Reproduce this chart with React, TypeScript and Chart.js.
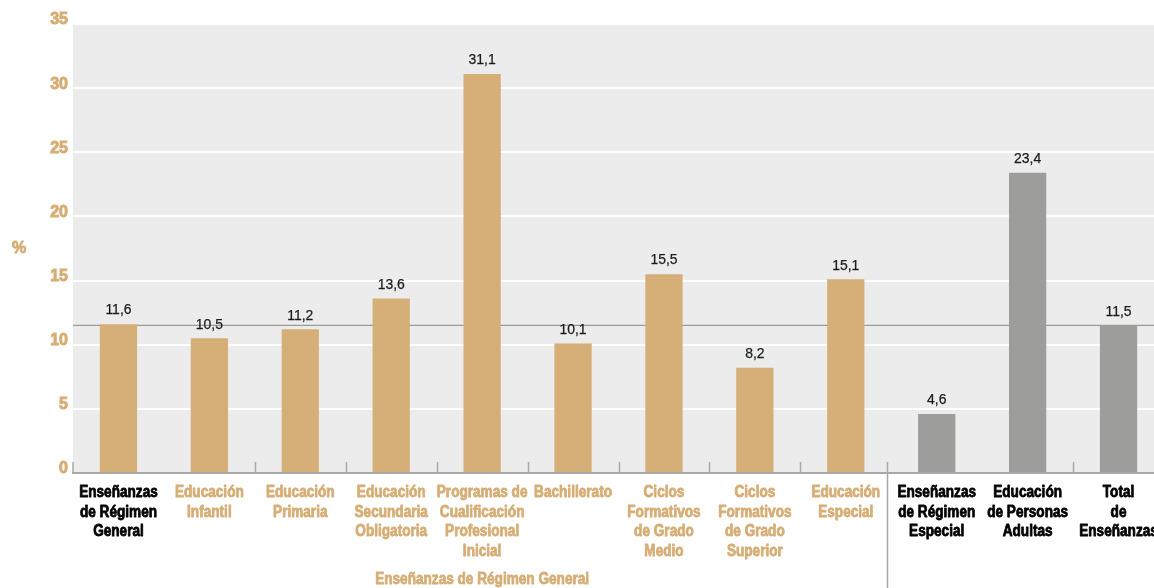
import { useEffect, useRef } from "react";
import { Chart, registerables } from "chart.js";

Chart.register(...registerables);

// ---- Data ----
const categoryLabels: string[][] = [
  ["Enseñanzas", "de Régimen", "General"],
  ["Educación", "Infantil"],
  ["Educación", "Primaria"],
  ["Educación", "Secundaria", "Obligatoria"],
  ["Programas de", "Cualificación", "Profesional", "Inicial"],
  ["Bachillerato"],
  ["Ciclos", "Formativos", "de Grado", "Medio"],
  ["Ciclos", "Formativos", "de Grado", "Superior"],
  ["Educación", "Especial"],
  ["Enseñanzas", "de Régimen", "Especial"],
  ["Educación", "de Personas", "Adultas"],
  ["Total", "de", "Enseñanzas"],
];
const values: number[] = [11.6, 10.5, 11.2, 13.6, 31.1, 10.1, 15.5, 8.2, 15.1, 4.6, 23.4, 11.5];
// which bars belong to "Régimen General" (tan) vs the rest (grey)
const isGeneralBar: boolean[] = [true, true, true, true, true, true, true, true, true, false, false, false];
// which labels are sub-categories of Régimen General (tan text)
const isSubLabel: boolean[] = [false, true, true, true, true, true, true, true, true, false, false, false];
const yTickMax = 35;
const yTickStep = 5;
const groupLabel = "Enseñanzas de Régimen General";
const groupFirst = 0;
const groupLast = 8;
const shortTickAfter: number[] = [1, 2, 3, 4, 5, 6, 7, 10];
const separatorAfter = 8;
const totalIndex = 11;
const yAxisTitle = "%";

const TAN = "#d5af77";
const TAN_TEXT = "#d6ad74";
const GREY = "#9d9d9c";
const SANS = "'Liberation Sans', Arial, sans-serif";

const fmt = (v: number) => v.toFixed(1).replace(".", ",");

// draw condensed text (horizontal compression of a regular face), optional heavier stroke
function narrowText(ctx: CanvasRenderingContext2D, text: string, x: number, y: number, sx: number, heavy = 0) {
  ctx.save();
  ctx.translate(x, y);
  ctx.scale(sx, 1);
  if (heavy > 0) {
    ctx.strokeStyle = ctx.fillStyle as string;
    ctx.lineWidth = heavy;
    ctx.lineJoin = "round";
    ctx.strokeText(text, 0, 0);
  }
  ctx.fillText(text, 0, 0);
  ctx.restore();
}

const decor = {
  id: "decor",
  beforeDraw(chart: any) {
    const { ctx, chartArea: a } = chart;
    ctx.save();
    ctx.fillStyle = "#ececec";
    ctx.fillRect(a.left, a.top, a.right - a.left, a.bottom - a.top);
    ctx.restore();
  },
  beforeDatasetsDraw(chart: any) {
    const { ctx, chartArea: a } = chart;
    const y = chart.scales.y.getPixelForValue(values[totalIndex]);
    ctx.save();
    ctx.strokeStyle = "#9a9a9a";
    ctx.lineWidth = 1.3;
    ctx.beginPath();
    ctx.moveTo(a.left, y);
    ctx.lineTo(a.right, y);
    ctx.stroke();
    ctx.restore();
  },
  afterDatasetsDraw(chart: any) {
    const { ctx, chartArea: a } = chart;
    const xs = chart.scales.x;
    const meta = chart.getDatasetMeta(0);
    ctx.save();
    ctx.textAlign = "center";
    ctx.textBaseline = "middle";
    // value labels
    ctx.fillStyle = "#1a1a1a";
    ctx.font = `15.5px ${SANS}`;
    meta.data.forEach((bar: any, i: number) => {
      narrowText(ctx, fmt(values[i]), bar.x, bar.y - 14, 0.9, 0.25);
    });
    // category labels
    ctx.font = `bold 16px ${SANS}`;
    categoryLabels.forEach((lines, i) => {
      const x = xs.getPixelForValue(i);
      ctx.fillStyle = isSubLabel[i] ? TAN_TEXT : "#000000";
      lines.forEach((line, k) => {
        narrowText(ctx, line, x, a.bottom + 19.5 + k * 19.6, 0.85, 0.8);
      });
    });
    // tick stubs
    ctx.strokeStyle = "#a8a8a8";
    ctx.lineWidth = 1.5;
    ctx.beginPath();
    ctx.moveTo(a.left, a.bottom - 11);
    ctx.lineTo(a.left, a.bottom);
    shortTickAfter.forEach((i) => {
      const x = Math.round((xs.getPixelForValue(i) + xs.getPixelForValue(i + 1)) / 2) + 0.5;
      ctx.moveTo(x, a.bottom - 11);
      ctx.lineTo(x, a.bottom);
    });
    const sx = Math.round((xs.getPixelForValue(separatorAfter) + xs.getPixelForValue(separatorAfter + 1)) / 2) - 3.5;
    ctx.moveTo(sx, a.bottom - 11);
    ctx.lineTo(sx, chart.height);
    ctx.stroke();
    // % title
    ctx.fillStyle = TAN_TEXT;
    ctx.font = `bold 16px ${SANS}`;
    narrowText(ctx, yAxisTitle, 19, 249, 1, 0.8);
    // group label
    const gx = (xs.getPixelForValue(groupFirst) + xs.getPixelForValue(groupLast)) / 2;
    narrowText(ctx, groupLabel, gx, 580, 0.85, 0.8);
    ctx.restore();
  },
};

export default function App() {
  const ref = useRef<HTMLCanvasElement | null>(null);
  useEffect(() => {
    if (!ref.current) return;
    const chart = new Chart(ref.current, {
      type: "bar",
      data: {
        labels: categoryLabels.map((l) => l.join(" ")),
        datasets: [
          {
            data: values,
            backgroundColor: isGeneralBar.map((g) => (g ? TAN : GREY)),
            borderWidth: 0,
            categoryPercentage: 1,
            barPercentage: 0.41,
          },
        ],
      },
      options: {
        responsive: false,
        animation: false,
        devicePixelRatio: 1,
        layout: { padding: { top: 24, left: 0, right: 0, bottom: 0 } },
        plugins: { legend: { display: false }, tooltip: { enabled: false } },
        scales: {
          x: {
            grid: { display: false, drawTicks: false },
            border: { display: true, color: "#a8a8a8", width: 2 },
            ticks: { display: false },
            afterFit: (s: any) => {
              s.height = 115;
            },
          },
          y: {
            min: 0,
            max: yTickMax,
            grid: {
              color: (c: any) => (c.tick && c.tick.value === 0 ? "rgba(0,0,0,0)" : "#ffffff"),
              lineWidth: 2,
              drawTicks: false,
            },
            border: { display: false },
            ticks: {
              stepSize: yTickStep,
              padding: 5,
              labelOffset: -4,
              color: TAN_TEXT,
              textStrokeColor: TAN_TEXT,
              textStrokeWidth: 0.9,
              font: { family: SANS, size: 16, weight: "bold" },
            },
            afterFit: (s: any) => {
              s.width = 73;
            },
          },
        },
      },
      plugins: [decor],
    } as any);
    return () => chart.destroy();
  }, []);
  return (
    <div style={{ position: "absolute", left: 0, top: 0, width: 1154, height: 588, overflow: "hidden", background: "#fff" }}>
      <canvas ref={ref} width={1164} height={588} style={{ display: "block", width: 1164, height: 588 }} />
    </div>
  );
}
